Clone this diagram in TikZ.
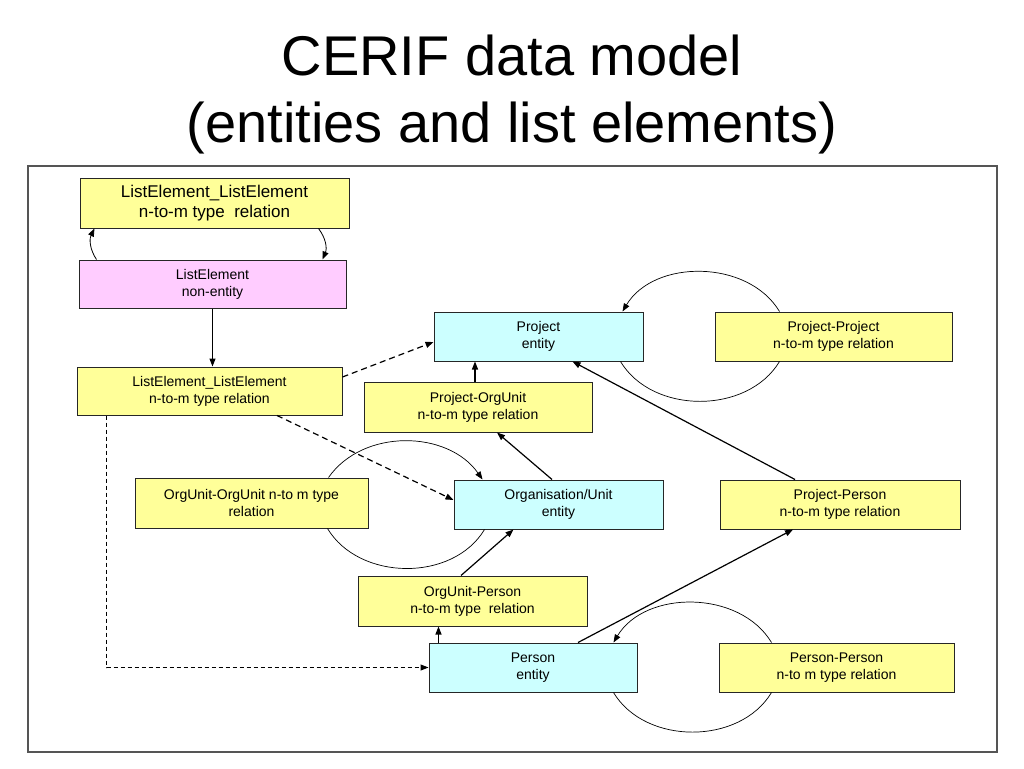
\documentclass[tikz,border=0pt]{standalone}
\usepackage{fontspec}
\setmainfont{Liberation Sans}
\usetikzlibrary{arrows.meta}
\definecolor{relyellow}{HTML}{FFFF99}
\definecolor{entcyan}{HTML}{CCFFFF}
\definecolor{lepink}{HTML}{FFCCFF}
\definecolor{framegray}{HTML}{555555}
\begin{document}
\begin{tikzpicture}
  [x=1pt,y=-1pt,
   box/.style={draw=black!85,line width=1pt,inner sep=0pt,align=center,
     minimum height=49pt,font=\fontsize{14}{17}\selectfont},
   rel/.style={box,fill=relyellow},
   ent/.style={box,fill=entcyan},
   nonent/.style={box,fill=lepink},
   link/.style={line width=1.2pt,-{Triangle[length=8pt,width=6pt]}},
   dlink/.style={link,dash pattern=on 6pt off 4pt},
   flink/.style={link,line width=1pt,dash pattern=on 4pt off 3pt},
   selfloop/.style={line width=0.7pt},
   title/.style={anchor=base,font=\fontsize{56}{63}\selectfont}]
  \useasboundingbox (0,0) rectangle (1024,768);
  \node[title] (title1) at (512,75) {CERIF data model};
  \node[title] (title2) at (512,142) {(entities and list elements)};
  \draw[framegray,line width=1.2pt] (28,166) rectangle (997,752);

  \node[rel,minimum width=269pt,minimum height=50pt,font=\fontsize{17}{20}\selectfont]
    (lele1) at (214.5,203) {ListElement\_ListElement\\n-to-m type~ relation};
  \node[nonent,minimum width=267pt,minimum height=48pt] (le) at (212.5,284) {ListElement\\non-entity};
  \node[rel,minimum width=265pt,minimum height=48pt] (lele2) at (209.5,391) {ListElement\_ListElement\\n-to-m type relation};
  \node[ent,minimum width=209pt] (proj) at (538.5,336.5) {Project\\entity};
  \node[rel,minimum width=237pt] (projproj) at (833.5,336.5) {Project-Project\\n-to-m type relation};
  \node[rel,minimum width=228pt,minimum height=50pt] (projou) at (478,407) {Project-OrgUnit\\n-to-m type relation};
  \node[rel,minimum width=233pt,minimum height=50pt] (ouou) at (251.5,503) {OrgUnit-OrgUnit n-to m type\\relation};
  \node[ent,minimum width=209pt] (org) at (558.5,504.5) {Organisation/Unit\\entity};
  \node[rel,minimum width=240pt] (projpers) at (840,504.5) {Project-Person\\n-to-m type relation};
  \node[rel,minimum width=229pt,minimum height=50pt] (oupers) at (472.5,601) {OrgUnit-Person\\n-to-m type~ relation};
  \node[ent,minimum width=208pt] (pers) at (533,667.5) {Person\\entity};
  \node[rel,minimum width=235pt] (perspers) at (836.5,667.5) {Person-Person\\n-to m type relation};

  % list elements
  \draw[link,line width=0.8pt] ([xshift=18pt]le.north west) to[bend left=30] ([xshift=15pt]lele1.south west);
  \draw[link,line width=0.8pt] ([xshift=-31pt]lele1.south east) to[bend left=30] ([xshift=-24pt]le.north east);
  \draw[link] (le.south) -- (le.south |- lele2.north);
  \draw[dlink] ([yshift=14pt]lele2.east) -- ([yshift=-5.5pt]proj.west);
  \draw[dlink] ([xshift=67.5pt]lele2.south) -- ([yshift=4.5pt]org.west);
  \draw[flink] ([xshift=30pt]lele2.south west) |- (pers.west);

  % relations
  \draw[link] ([xshift=-3pt]projou.north) -- ([xshift=-3pt]projou.north |- proj.south);
  \draw[link] ([xshift=-6.5pt]org.north) -- ([xshift=19pt]projou.south);
  \draw[link] ([xshift=-45pt]projpers.north) -- ([xshift=34pt]proj.south);
  \draw[link] ([xshift=-11.5pt]oupers.north) -- ([xshift=-45pt]org.south);
  \draw[link] ([xshift=10pt]pers.north west) -- ([xshift=10pt]pers.north west |- oupers.south);
  \draw[link] ([xshift=45pt]pers.north) -- ([xshift=-47pt]projpers.south);

  % self relations
  \draw[selfloop,-{Triangle[length=8pt,width=6pt]}] ([xshift=65pt]projproj.north west) to[out=121,in=59] ([xshift=-21pt]proj.north east);
  \draw[selfloop] ([xshift=-23pt]proj.south east) to[out=-59,in=-121] ([xshift=65pt]projproj.south west);
  \draw[selfloop,-{Triangle[length=8pt,width=6pt]}] ([xshift=-40pt]ouou.north east) to[out=55,in=125] ([xshift=29pt]org.north west);
  \draw[selfloop] ([xshift=-41pt]ouou.south east) to[out=-59,in=-121] ([xshift=31pt]org.south west);
  \draw[selfloop,-{Triangle[length=8pt,width=6pt]}] ([xshift=53pt]perspers.north west) to[out=121,in=59] ([xshift=-24pt]pers.north east);
  \draw[selfloop] ([xshift=-24pt]pers.south east) to[out=-59,in=-121] ([xshift=53pt]perspers.south west);
\end{tikzpicture}
\end{document}
